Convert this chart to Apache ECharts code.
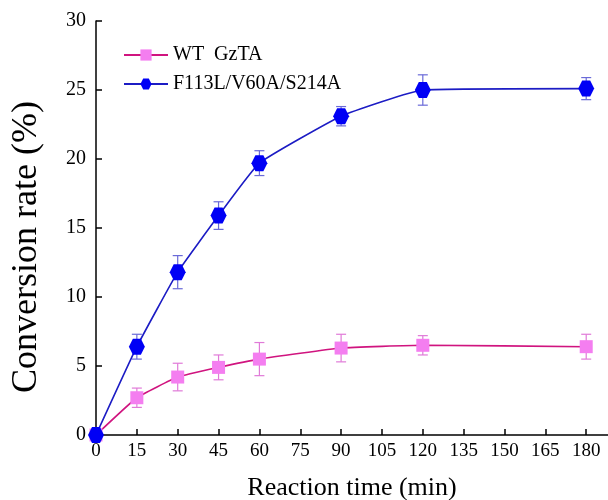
<!DOCTYPE html>
<html>
<head>
<meta charset="utf-8">
<script src="https://cdn.jsdelivr.net/npm/echarts@6/dist/echarts.min.js"></script>
<style>html,body{margin:0;padding:0;background:#fff}#c{width:608px;height:500px}</style>
</head>
<body>
<div id="c"></div>
<script>
const times = [0, 15, 30, 45, 60, 90, 120, 180];
const wtMean = [0, 2.7, 4.2, 4.9, 5.5, 6.3, 6.5, 6.4];
const wtErr = [0, 0.7, 1.0, 0.9, 1.2, 1.0, 0.7, 0.9];
const mutMean = [0, 6.4, 11.8, 15.9, 19.7, 23.1, 25.0, 25.1];
const mutErr = [0, 0.9, 1.2, 1.0, 0.9, 0.7, 1.1, 0.8];
const xTicks = [0, 15, 30, 45, 60, 75, 90, 105, 120, 135, 150, 165, 180];
const seriesNames = ['WT  GzTA', 'F113L/V60A/S214A'];
const yTitle = 'Conversion rate (%)';
const xTitle = 'Reaction time (min)';

const hexagon = 'path://M-1,0 L-0.5,-0.866 L0.5,-0.866 L1,0 L0.5,0.866 L-0.5,0.866 Z';
const font = '"Liberation Serif", "Times New Roman", serif';

function errData(mean, err) {
  return times.map((t, i) => [t, mean[i] - err[i], mean[i] + err[i]]);
}
function errRender(color) {
  return function (params, api) {
    const x = api.value(0);
    const lo = api.coord([x, api.value(1)]);
    const hi = api.coord([x, api.value(2)]);
    const w = 5;
    const style = { stroke: color, lineWidth: 1.2, fill: null };
    if (Math.abs(hi[1] - lo[1]) < 0.5) return null;
    return {
      type: 'group',
      children: [
        { type: 'line', shape: { x1: lo[0], y1: lo[1], x2: hi[0], y2: hi[1] }, style },
        { type: 'line', shape: { x1: lo[0] - w, y1: lo[1], x2: lo[0] + w, y2: lo[1] }, style },
        { type: 'line', shape: { x1: hi[0] - w, y1: hi[1], x2: hi[0] + w, y2: hi[1] }, style }
      ]
    };
  };
}

const chart = echarts.init(document.getElementById('c'));
chart.setOption({
  backgroundColor: '#fff',
  animation: false,
  grid: { left: 96, right: 0, top: 21, bottom: 65, outerBoundsMode: 'none', containLabel: false },
  graphic: [{
    type: 'text',
    x: 27,
    y: 247,
    rotation: Math.PI / 2,
    style: {
      text: yTitle,
      font: '36px ' + font,
      fill: '#000',
      align: 'center',
      verticalAlign: 'middle'
    }
  }],
  legend: {
    data: seriesNames,
    orient: 'vertical',
    left: 118,
    top: 40,
    itemWidth: 44,
    itemHeight: 14,
    itemGap: 9,
    textStyle: { fontFamily: font, fontSize: 20, color: '#000' }
  },
  xAxis: {
    type: 'value',
    min: 0,
    max: 188,
    interval: 15,
    name: xTitle,
    nameLocation: 'middle',
    nameGap: 40,
    nameTextStyle: { fontFamily: font, fontSize: 26, color: '#000' },
    axisLine: { lineStyle: { color: '#000', width: 1.5 } },
    axisTick: { inside: true, length: 6, lineStyle: { color: '#000', width: 1.5 } },
    axisLabel: { fontFamily: font, fontSize: 19, color: '#000', margin: 7, showMaxLabel: false },
    splitLine: { show: false }
  },
  yAxis: {
    type: 'value',
    min: 0,
    max: 30,
    interval: 5,
    axisLine: { show: true, lineStyle: { color: '#000', width: 1.5 } },
    axisTick: { show: true, inside: true, length: 6, lineStyle: { color: '#000', width: 1.5 } },
    axisLabel: { fontFamily: font, fontSize: 20, color: '#000', margin: 10 },
    splitLine: { show: false }
  },
  series: [
    {
      type: 'custom',
      renderItem: errRender('#e07ad8'),
      data: errData(wtMean, wtErr),
      encode: { x: 0, y: [1, 2] },
      z: 1,
      silent: true
    },
    {
      type: 'custom',
      renderItem: errRender('#6a6ad8'),
      data: errData(mutMean, mutErr),
      encode: { x: 0, y: [1, 2] },
      z: 1,
      silent: true
    },
    {
      name: seriesNames[0],
      type: 'line',
      data: times.map((t, i) => [t, wtMean[i]]),
      smooth: 0.12,
      symbol: 'rect',
      symbolSize: 13,
      showAllSymbol: true,
      lineStyle: { color: '#d0147f', width: 1.6 },
      itemStyle: { color: '#f47ef0', borderWidth: 0 },
      z: 3
    },
    {
      name: seriesNames[1],
      type: 'line',
      data: times.map((t, i) => [t, mutMean[i]]),
      smooth: 0.12,
      symbol: hexagon,
      symbolSize: [16, 16],
      showAllSymbol: true,
      lineStyle: { color: '#1c1cc4', width: 1.6 },
      itemStyle: { color: '#0000f5', borderWidth: 0 },
      z: 4
    }
  ]
});
</script>
</body>
</html>
